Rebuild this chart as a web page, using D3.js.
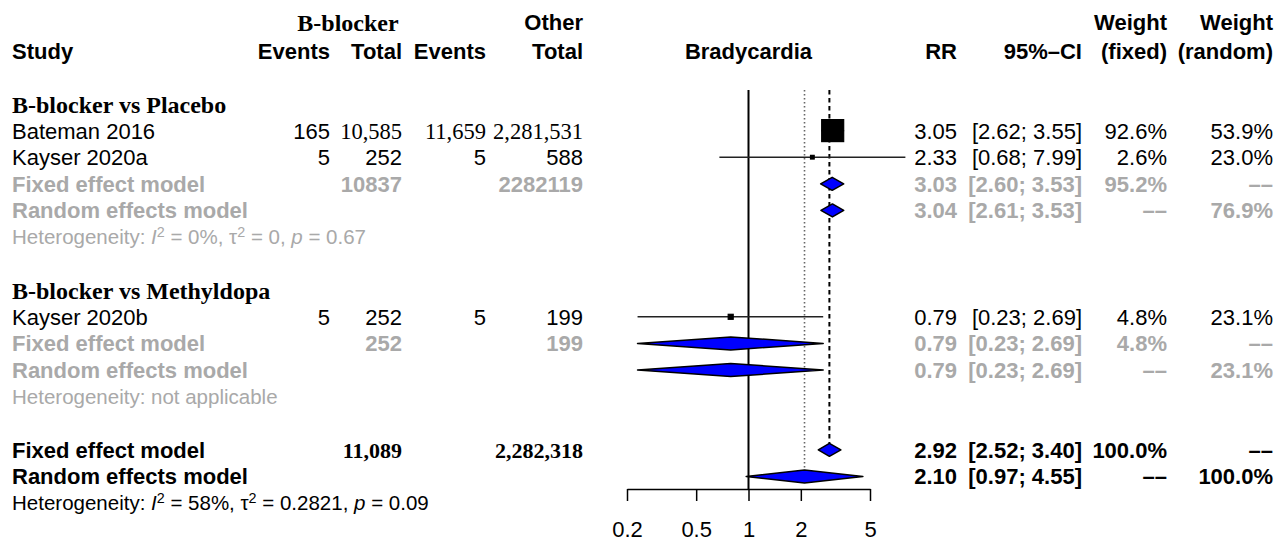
<!DOCTYPE html>
<html>
<head>
<meta charset="utf-8">
<script src="https://cdn.jsdelivr.net/npm/d3@7"></script>
<style>
  html, body { margin: 0; padding: 0; background: #fff; }
  svg { display: block; }
</style>
</head>
<body>
<svg id="chart" width="1284" height="541"></svg>
<script>
// ---- study-level data ----
const studyLabels   = ["Bateman 2016", "Kayser 2020a", "Kayser 2020b"];
const eventsBB      = [165, 5, 5];
const totalBB       = [10585, 252, 252];
const eventsOther   = [11659, 5, 5];
const totalOther    = [2281531, 588, 199];
const rr            = [3.05, 2.33, 0.79];
const ciLow         = [2.62, 0.68, 0.23];
const ciHigh        = [3.55, 7.99, 2.69];
const weightFixed   = [92.6, 2.6, 4.8];
const weightRandom  = [53.9, 23.0, 23.1];

// ---- subgroups ----
const subgroupLabels      = ["B-blocker vs Placebo", "B-blocker vs Methyldopa"];
const subgroupMembers     = [[0, 1], [2]];
const subgroupTotalBB     = [10837, 252];
const subgroupTotalOther  = [2282119, 199];
const subgroupFixedRR     = [3.03, 0.79];
const subgroupFixedLow    = [2.60, 0.23];
const subgroupFixedHigh   = [3.53, 2.69];
const subgroupRandomRR    = [3.04, 0.79];
const subgroupRandomLow   = [2.61, 0.23];
const subgroupRandomHigh  = [3.53, 2.69];
const subgroupWeightFixed = [95.2, 4.8];
const subgroupWeightRand  = [76.9, 23.1];
const subgroupHetI2       = ["0%", null];
const subgroupHetTau2     = ["0", null];
const subgroupHetP        = ["0.67", null];

// ---- overall pooled estimates ----
const overallTotalBB    = 11089;
const overallTotalOther = 2282318;
const overallFixed      = [2.92, 2.52, 3.40];
const overallRandom     = [2.10, 0.97, 4.55];
const overallHet        = ["58%", "0.2821", "0.09"];

const axisTicks = [0.2, 0.5, 1, 2, 5];

// ---- layout ----
const svg = d3.select("#chart");
const SANS = "'Liberation Sans', Arial, Helvetica, sans-serif";
const SERIF = "'Liberation Serif', 'Times New Roman', serif";
const GRAY = "#a9a9a9";
const FS = 22;        // main text size
const FS_LABEL = 24;  // serif bold group labels
const FS_HET = 20.5;  // heterogeneity line size
const NA = "\u2013\u2013";

const x = d3.scaleLog().domain([0.2, 5]).range([627, 870]);
const row = d3.scaleLinear().domain([0, 15]).range([104, 503]);
const boxSize = d3.scaleSqrt().domain([0, 92.6]).range([0, 22]);

const col = { study: 12, evE: 330, totE: 402, evC: 486, totC: 583,
              rr: 957, ci: 1082, wf: 1167, wr: 1273 };

const fmtComma = d3.format(",");
const fmt2 = d3.format(".2f");
const fmtPct = v => d3.format(".1f")(v) + "%";

function txt(xp, yc, s, o = {}) {
  return svg.append("text")
    .attr("x", xp).attr("y", yc).attr("dy", "0.36em")
    .attr("text-anchor", o.anchor || "start")
    .attr("font-family", o.family || SANS)
    .attr("font-size", o.size || FS)
    .attr("font-weight", o.weight || "normal")
    .attr("fill", o.fill || "#000")
    .text(s);
}

// counts of 1000 or more are written with thousands separators in a serif face
function countCell(xp, yc, v, o = {}) {
  if (v >= 1000) txt(xp, yc, fmtComma(v), Object.assign({ anchor: "end", family: SERIF, size: 22.5 }, o));
  else txt(xp, yc, String(v), Object.assign({ anchor: "end" }, o));
}

function ciText(lo, hi) { return "[" + fmt2(lo) + "; " + fmt2(hi) + "]"; }

function hetLine(yc, parts, fill) {
  const t = svg.append("text")
    .attr("x", col.study).attr("y", yc).attr("dy", "0.36em")
    .attr("font-family", SANS).attr("font-size", FS_HET).attr("fill", fill);
  if (!parts) { t.text("Heterogeneity: not applicable"); return; }
  const [i2, tau2, p] = parts;
  t.append("tspan").text("Heterogeneity: ");
  t.append("tspan").attr("font-style", "italic").text("I");
  t.append("tspan").attr("font-size", FS_HET * 0.7).attr("dy", -7).text("2");
  t.append("tspan").attr("dy", 7).text(" = " + i2 + ", \u03c4");
  t.append("tspan").attr("font-size", FS_HET * 0.7).attr("dy", -7).text("2");
  t.append("tspan").attr("dy", 7).text(" = " + tau2 + ", ");
  t.append("tspan").attr("font-style", "italic").text("p");
  t.append("tspan").text(" = " + p);
}

function diamond(yc, est, lo, hi, h = 6.5) {
  const pts = [[x(lo), yc], [x(est), yc - h], [x(hi), yc], [x(est), yc + h]];
  svg.append("path")
    .attr("d", d3.line()(pts) + "Z")
    .attr("fill", "#0000ff").attr("stroke", "#000").attr("stroke-width", 1.5)
    .attr("stroke-linejoin", "round");
}

// ---- column headers ----
const H1 = 22, H2 = 51;
txt(col.study, H2, "Study", { weight: "bold" });
txt(348, H1, "B-blocker", { weight: "bold", family: SERIF, size: FS_LABEL, anchor: "middle" });
txt(col.evE, H2, "Events", { weight: "bold", anchor: "end" });
txt(col.totE, H2, "Total", { weight: "bold", anchor: "end" });
txt(col.evC, H2, "Events", { weight: "bold", anchor: "end" });
txt(col.totC, H1, "Other", { weight: "bold", anchor: "end" });
txt(col.totC, H2, "Total", { weight: "bold", anchor: "end" });
txt(x(1), H2, "Bradycardia", { weight: "bold", anchor: "middle" });
txt(col.rr, H2, "RR", { weight: "bold", anchor: "end" });
txt(col.ci, H2, "95%\u2013CI", { weight: "bold", anchor: "end" });
txt(col.wf, H1, "Weight", { weight: "bold", anchor: "end" });
txt(col.wf, H2, "(fixed)", { weight: "bold", anchor: "end" });
txt(col.wr, H1, "Weight", { weight: "bold", anchor: "end" });
txt(col.wr, H2, "(random)", { weight: "bold", anchor: "end" });

// ---- reference lines (drawn first so marks sit on top) ----
const plotTop = 90, axisY = 489;
const fixedRow = 13, randomRow = 14;
svg.append("line")
  .attr("x1", x(1)).attr("x2", x(1)).attr("y1", plotTop).attr("y2", axisY)
  .attr("stroke", "#000").attr("stroke-width", 2);
svg.append("line")
  .attr("x1", x(overallFixed[0])).attr("x2", x(overallFixed[0]))
  .attr("y1", plotTop).attr("y2", row(fixedRow) - 6.5)
  .attr("stroke", "#000").attr("stroke-width", 2).attr("stroke-dasharray", "4.5,3.5");
svg.append("line")
  .attr("x1", x(overallRandom[0])).attr("x2", x(overallRandom[0]))
  .attr("y1", plotTop).attr("y2", row(randomRow) - 6.5)
  .attr("stroke", "#666").attr("stroke-width", 1.6).attr("stroke-dasharray", "1.6,2.4");

// ---- subgroup blocks ----
let r = 0;
const G = { fill: GRAY, weight: "bold" };
const GE = { fill: GRAY, weight: "bold", anchor: "end" };
subgroupLabels.forEach((label, g) => {
  txt(col.study, row(r), label, { weight: "bold", family: SERIF, size: FS_LABEL });
  r++;
  subgroupMembers[g].forEach(i => {
    const yc = row(r);
    txt(col.study, yc, studyLabels[i]);
    countCell(col.evE, yc, eventsBB[i]);
    countCell(col.totE, yc, totalBB[i]);
    countCell(col.evC, yc, eventsOther[i]);
    countCell(col.totC, yc, totalOther[i]);
    txt(col.rr, yc, fmt2(rr[i]), { anchor: "end" });
    txt(col.ci, yc, ciText(ciLow[i], ciHigh[i]), { anchor: "end" });
    txt(col.wf, yc, fmtPct(weightFixed[i]), { anchor: "end" });
    txt(col.wr, yc, fmtPct(weightRandom[i]), { anchor: "end" });
    // confidence interval and weighted box
    svg.append("line")
      .attr("x1", x(ciLow[i])).attr("x2", x(ciHigh[i])).attr("y1", yc).attr("y2", yc)
      .attr("stroke", "#222").attr("stroke-width", 1.5);
    const s = boxSize(weightFixed[i]);
    svg.append("rect")
      .attr("x", x(rr[i]) - s / 2).attr("y", yc - s / 2).attr("width", s).attr("height", s)
      .attr("fill", "#000").attr("stroke", "#000").attr("stroke-width", 1.2);
    r++;
  });
  // subgroup fixed effect
  let yc = row(r);
  txt(col.study, yc, "Fixed effect model", G);
  txt(col.totE, yc, String(subgroupTotalBB[g]), GE);
  txt(col.totC, yc, String(subgroupTotalOther[g]), GE);
  txt(col.rr, yc, fmt2(subgroupFixedRR[g]), GE);
  txt(col.ci, yc, ciText(subgroupFixedLow[g], subgroupFixedHigh[g]), GE);
  txt(col.wf, yc, fmtPct(subgroupWeightFixed[g]), GE);
  txt(col.wr, yc, NA, GE);
  diamond(yc, subgroupFixedRR[g], subgroupFixedLow[g], subgroupFixedHigh[g]);
  r++;
  // subgroup random effects
  yc = row(r);
  txt(col.study, yc, "Random effects model", G);
  txt(col.rr, yc, fmt2(subgroupRandomRR[g]), GE);
  txt(col.ci, yc, ciText(subgroupRandomLow[g], subgroupRandomHigh[g]), GE);
  txt(col.wf, yc, NA, GE);
  txt(col.wr, yc, fmtPct(subgroupWeightRand[g]), GE);
  diamond(yc, subgroupRandomRR[g], subgroupRandomLow[g], subgroupRandomHigh[g]);
  r++;
  // heterogeneity
  const het = subgroupHetI2[g] ? [subgroupHetI2[g], subgroupHetTau2[g], subgroupHetP[g]] : null;
  hetLine(row(r), het, GRAY);
  r += 2;
});

// ---- overall pooled rows ----
let yc = row(fixedRow);
txt(col.study, yc, "Fixed effect model", { weight: "bold" });
txt(col.totE, yc, fmtComma(overallTotalBB), { weight: "bold", family: SERIF, anchor: "end" });
txt(col.totC, yc, fmtComma(overallTotalOther), { weight: "bold", family: SERIF, anchor: "end" });
txt(col.rr, yc, fmt2(overallFixed[0]), { weight: "bold", anchor: "end" });
txt(col.ci, yc, ciText(overallFixed[1], overallFixed[2]), { weight: "bold", anchor: "end" });
txt(col.wf, yc, "100.0%", { weight: "bold", anchor: "end" });
txt(col.wr, yc, NA, { weight: "bold", anchor: "end" });
diamond(yc, overallFixed[0], overallFixed[1], overallFixed[2]);

yc = row(randomRow);
txt(col.study, yc, "Random effects model", { weight: "bold" });
txt(col.rr, yc, fmt2(overallRandom[0]), { weight: "bold", anchor: "end" });
txt(col.ci, yc, ciText(overallRandom[1], overallRandom[2]), { weight: "bold", anchor: "end" });
txt(col.wf, yc, NA, { weight: "bold", anchor: "end" });
txt(col.wr, yc, "100.0%", { weight: "bold", anchor: "end" });
diamond(yc, overallRandom[0], overallRandom[1], overallRandom[2]);

hetLine(row(15), overallHet, "#000");

// ---- x axis ----
const axis = d3.axisBottom(x)
  .tickValues(axisTicks)
  .tickFormat(d3.format("~g"))
  .tickSize(12).tickSizeOuter(0).tickPadding(20);
const gAxis = svg.append("g").attr("transform", `translate(0,${axisY})`).call(axis);
gAxis.select(".domain").attr("stroke", "#000").attr("stroke-width", 1.5);
gAxis.selectAll(".tick line").attr("stroke", "#000").attr("stroke-width", 1.5);
gAxis.selectAll(".tick text").attr("font-family", SANS).attr("font-size", FS).attr("fill", "#000");
</script>
</body>
</html>
